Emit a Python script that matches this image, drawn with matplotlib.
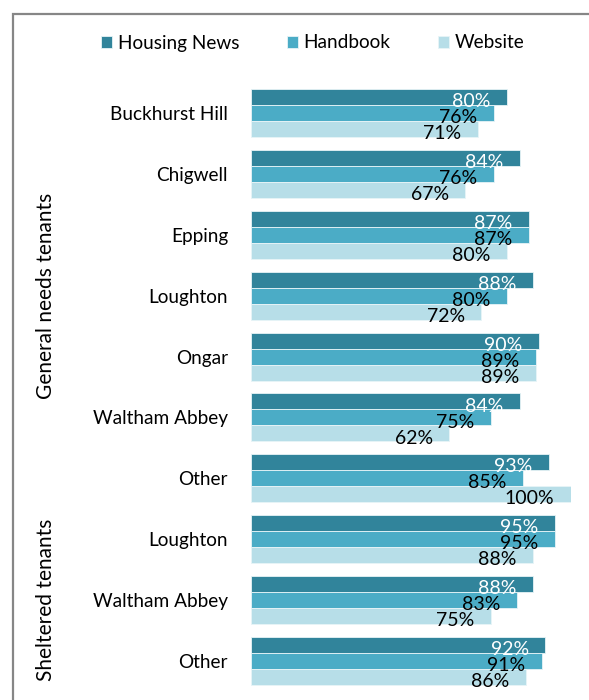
import matplotlib.pyplot as plt
from matplotlib.patches import Rectangle
import numpy as np

plt.rcParams['font.family'] = ['Lato', 'DejaVu Sans']

categories = ['Buckhurst Hill', 'Chigwell', 'Epping', 'Loughton', 'Ongar',
              'Waltham Abbey', 'Other', 'Loughton', 'Waltham Abbey', 'Other']
housing_news = [80, 84, 87, 88, 90, 84, 93, 95, 88, 92]
handbook = [76, 76, 87, 80, 89, 75, 85, 95, 83, 91]
website = [71, 67, 80, 72, 89, 62, 100, 88, 75, 86]
series_names = ['Housing News', 'Handbook', 'Website']
groups = [('General needs tenants', 0, 6), ('Sheltered tenants', 7, 9)]

colors = ['#31849B', '#4BACC6', '#B7DEE8']
label_colors = ['white', 'black', 'black']
fs = 13.7

W, H = 589, 700
fig = plt.figure(figsize=(W / 100, H / 100), dpi=100)
ax = fig.add_axes([251 / W, 1 - 691.5 / H, 320 / W, 609 / H])

y = np.arange(len(categories))
h = 0.263
for k, (vals, c, lc) in enumerate(zip([housing_news, handbook, website], colors, label_colors)):
    bars = ax.barh(y + (k - 1) * h, vals, height=h, color=c, edgecolor='#e8f4f7',
                   linewidth=0.6, label=series_names[k])
    for b, v in zip(bars, vals):
        ax.annotate(f'{v}%', (b.get_width(), b.get_y() + b.get_height()),
                    xytext=(-12, -1.5), textcoords='offset points',
                    ha='right', va='baseline', fontsize=14, color=lc)

ax.set_xlim(0, 100)
ax.set_ylim(len(categories) - 0.5, -0.5)
ax.set_yticks(y)
ax.set_yticklabels(categories, fontsize=fs)
ax.tick_params(axis='y', length=0, pad=16.5)
ax.set_xticks([])
for s in ax.spines.values():
    s.set_visible(False)

# group labels on the left
for name, a, b in groups:
    yc = (a + b) / 2
    yfig = ax.transData.transform((0, yc))[1] / H
    fig.text(46 / W, yfig, name, rotation=90, ha='center', va='center', fontsize=15)

fig.legend(loc='center', bbox_to_anchor=(313 / W, 1 - 43 / H), ncol=3, frameon=False,
           fontsize=fs, handlelength=0.58, handleheight=0.58, handletextpad=0.3,
           columnspacing=2.5)

# chart border (extends past the image edge)
fig.add_artist(Rectangle((13 / W, -0.1), 1.2, 1.1 - 14 / H, transform=fig.transFigure,
                         fill=False, edgecolor='#868686', linewidth=1.6))

fig.savefig('out.png', dpi=100)
